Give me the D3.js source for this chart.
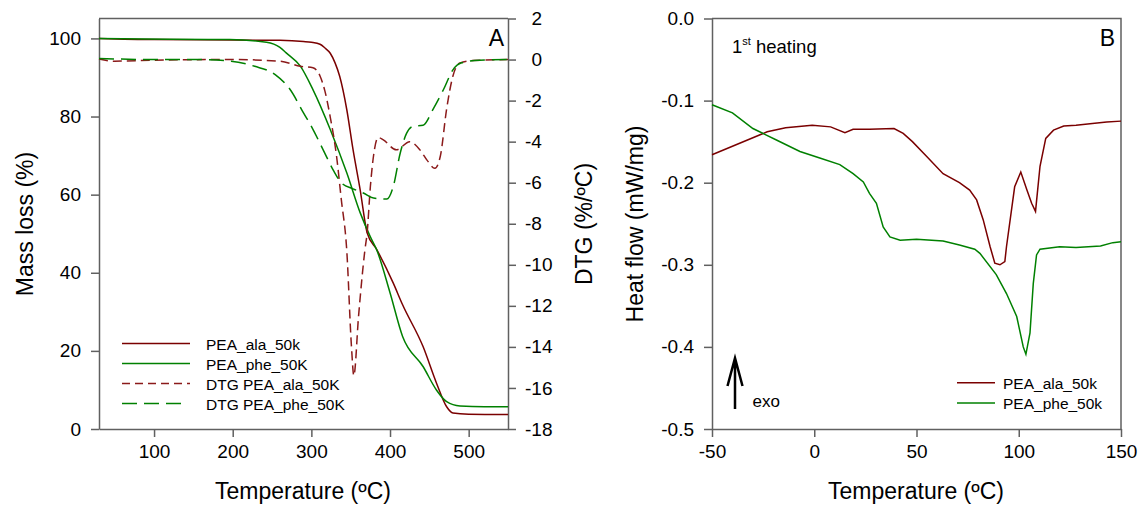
<!DOCTYPE html>
<html>
<head>
<meta charset="utf-8">
<script src="https://cdn.jsdelivr.net/npm/d3@7"></script>
<style>
  body { margin: 0; background: #fff; }
  svg { display: block; font-family: Arial, "Liberation Sans", sans-serif; }
  .axis path, .axis line { stroke: #606060; stroke-width: 1.5; }
  .axis text { font-size: 19px; fill: #000; }
</style>
</head>
<body>
<script>
// --- panel A : TGA (mass, left axis) and DTG (right axis) ---
const tgaAla = [[30,100],[100,99.7],[200,99.6],[260,99.5],[290,99.2],[300,99.0],[311,98.5],[317,97.6],[324,96.2],[330,93.8],[336,90.3],[345,81.8],[353,71.5],[362,61.3],[371,50.2],[383,46],[404,37.4],[416,31.8],[442,21.1],[459,11.8],[472,5.7],[480,4.1],[500,3.8],[550,3.7]];
const tgaPhe = [[30,100],[120,99.8],[196,99.7],[243,99],[260,97.7],[268,96.3],[286,92.9],[302,86.9],[324,76.7],[345,65.6],[362,55.4],[375,49.2],[383,45.9],[400,34.9],[416,23.7],[442,16],[459,10],[472,7],[489,5.9],[520,5.7],[550,5.7]];
const dtgAla = [[30,0.03],[50,-0.08],[100,-0.03],[198,0],[260,-0.08],[286,-0.33],[302,-0.4],[311,-0.8],[317,-1.5],[324,-2.8],[332,-4.7],[338,-6.8],[345,-9.3],[351,-14],[354,-15.4],[360,-12.5],[368,-9.3],[371,-8.4],[375,-6.2],[379,-4.7],[385,-3.8],[391,-3.9],[408,-4.4],[425,-4.0],[438,-4.4],[447,-4.9],[457,-5.3],[464,-4.7],[472,-2.4],[480,-0.8],[489,-0.16],[505,-0.05],[550,0]];
const dtgPhe = [[30,0.05],[100,0],[158,0],[198,-0.08],[228,-0.33],[254,-0.73],[273,-1.46],[290,-2.6],[302,-3.4],[315,-4.4],[328,-5.4],[338,-6.0],[353,-6.3],[366,-6.5],[379,-6.75],[396,-6.8],[404,-6.2],[413,-4.55],[421,-3.6],[429,-3.25],[442,-3.2],[455,-2.4],[468,-1.46],[480,-0.5],[491,-0.16],[514,-0.03],[550,0]];

// --- panel B : DSC 1st heating ---
const dscAla = [[-50,-0.166],[-23,-0.138],[-14,-0.133],[-1,-0.130],[8,-0.132],[15,-0.139],[19,-0.135],[27,-0.135],[39,-0.134],[43.5,-0.14],[48,-0.15],[55,-0.168],[63,-0.189],[71,-0.2],[76,-0.209],[79.4,-0.221],[82.6,-0.245],[86,-0.278],[88.3,-0.298],[90.8,-0.300],[93.2,-0.296],[94,-0.278],[98,-0.205],[101,-0.187],[104,-0.209],[106.3,-0.225],[108.2,-0.235],[110.4,-0.18],[113.2,-0.146],[117,-0.136],[122,-0.131],[128,-0.130],[136,-0.128],[143,-0.126],[150,-0.125]];
const dscPhe = [[-50,-0.105],[-40,-0.115],[-30,-0.134],[-18.5,-0.148],[-7,-0.162],[2.7,-0.170],[12.5,-0.178],[19,-0.189],[24,-0.199],[27,-0.213],[30.4,-0.225],[33.7,-0.254],[37,-0.266],[42,-0.270],[50,-0.269],[63,-0.271],[71,-0.276],[78.5,-0.281],[81,-0.286],[89,-0.312],[94,-0.335],[99,-0.363],[102.2,-0.400],[103.5,-0.409],[105.5,-0.383],[107.1,-0.323],[108.7,-0.288],[110.4,-0.281],[120,-0.278],[128,-0.279],[140,-0.277],[146,-0.273],[150,-0.272]];

const legendA = ['PEA_ala_50k', 'PEA_phe_50K', 'DTG PEA_ala_50K', 'DTG PEA_phe_50K'];
const legendB = ['PEA_ala_50k', 'PEA_phe_50k'];

const red = '#7a0000', redDash = '#8b1a1a', green = '#008000';

const W = 1141, H = 506;
const svg = d3.select('body').append('svg').attr('width', W).attr('height', H);

const plotTop = 18.5, plotBottom = 429;

// ---------- panel A ----------
const xA = d3.scaleLinear().domain([30, 550]).range([99, 508]);
const yMass = d3.scaleLinear().domain([0, 105.1]).range([plotBottom, plotTop]);
const yDtg = d3.scaleLinear().domain([-18, 2]).range([plotBottom, plotTop]);

svg.append('line').attr('x1', 99).attr('x2', 508).attr('y1', plotTop).attr('y2', plotTop)
  .attr('stroke', '#606060').attr('stroke-width', 1.5);

svg.append('g').attr('class', 'axis').attr('transform', `translate(0,${plotBottom})`)
  .call(d3.axisBottom(xA).tickValues([100, 200, 300, 400, 500]).tickSize(8).tickPadding(8).tickSizeOuter(0));
svg.append('g').attr('class', 'axis').attr('transform', 'translate(99,0)')
  .call(d3.axisLeft(yMass).tickValues([0, 20, 40, 60, 80, 100]).tickSize(8).tickPadding(10).tickSizeOuter(0));
const rAx = svg.append('g').attr('class', 'axis').attr('transform', 'translate(508,0)')
  .call(d3.axisRight(yDtg).ticks(10).tickFormat(d => String(d)).tickSize(8).tickPadding(10).tickSizeOuter(0));
rAx.selectAll('.tick text').attr('x', d => d < 0 ? 17 : 23.5);

const lineA = (yS) => d3.line().x(d => xA(d[0])).y(d => yS(d[1])).curve(d3.curveMonotoneX);
svg.append('path').datum(tgaAla).attr('d', lineA(yMass)).attr('fill', 'none').attr('stroke', red).attr('stroke-width', 1.5);
svg.append('path').datum(tgaPhe).attr('d', lineA(yMass)).attr('fill', 'none').attr('stroke', green).attr('stroke-width', 1.5);
svg.append('path').datum(dtgAla).attr('d', lineA(yDtg)).attr('fill', 'none').attr('stroke', redDash).attr('stroke-width', 1.5).attr('stroke-dasharray', '9,5');
svg.append('path').datum(dtgPhe).attr('d', lineA(yDtg)).attr('fill', 'none').attr('stroke', green).attr('stroke-width', 1.5).attr('stroke-dasharray', '15,7');

const legA = svg.append('g');
const styleA = [
  { c: red, dash: null, len: 68 },
  { c: green, dash: null, len: 68 },
  { c: redDash, dash: '8,5', len: 68 },
  { c: green, dash: '15,7', len: 60 }
];
legendA.forEach((t, i) => {
  const y = 343.5 + i * 20;
  legA.append('line').attr('x1', 122).attr('x2', 122 + styleA[i].len).attr('y1', y).attr('y2', y)
    .attr('stroke', styleA[i].c).attr('stroke-width', 1.5).attr('stroke-dasharray', styleA[i].dash);
  legA.append('text').attr('x', 206).attr('y', y + 6).attr('font-size', 15.5).text(t);
});

svg.append('text').attr('x', 504).attr('y', 46).attr('text-anchor', 'end').attr('font-size', 23).text('A');

svg.append('text').attr('x', 303).attr('y', 499).attr('text-anchor', 'middle').attr('font-size', 23).text('Temperature (ºC)');
svg.append('text').attr('transform', 'translate(33,224) rotate(-90)').attr('text-anchor', 'middle').attr('font-size', 23).text('Mass loss (%)');
svg.append('text').attr('transform', 'translate(592,224) rotate(-90)').attr('text-anchor', 'middle').attr('font-size', 23).text('DTG (%/ºC)');

// ---------- panel B ----------
const xB = d3.scaleLinear().domain([-50, 150]).range([712, 1121]);
const yB = d3.scaleLinear().domain([-0.5, 0]).range([plotBottom, plotTop]);

svg.append('path').attr('d', `M712,${plotTop}H1121V${plotBottom}`).attr('fill', 'none')
  .attr('stroke', '#606060').attr('stroke-width', 1.5);
svg.append('g').attr('class', 'axis').attr('transform', `translate(0,${plotBottom})`)
  .call(d3.axisBottom(xB).tickValues([-50, 0, 50, 100, 150]).tickFormat(d => String(d)).tickSize(8).tickPadding(8).tickSizeOuter(0));
svg.append('g').attr('class', 'axis').attr('transform', 'translate(712,0)')
  .call(d3.axisLeft(yB).tickValues([-0.5, -0.4, -0.3, -0.2, -0.1, 0]).tickFormat(d => d.toFixed(1)).tickSize(8).tickPadding(10).tickSizeOuter(0));

const lineB = d3.line().x(d => xB(d[0])).y(d => yB(d[1]));
svg.append('path').datum(dscAla).attr('d', lineB).attr('fill', 'none').attr('stroke', red).attr('stroke-width', 1.5);
svg.append('path').datum(dscPhe).attr('d', lineB).attr('fill', 'none').attr('stroke', green).attr('stroke-width', 1.5);

[red, green].forEach((c, i) => {
  const y = 382.7 + i * 20.3;
  svg.append('line').attr('x1', 957).attr('x2', 995).attr('y1', y).attr('y2', y).attr('stroke', c).attr('stroke-width', 1.5);
  svg.append('text').attr('x', 1003).attr('y', y + 6).attr('font-size', 15.5).text(legendB[i]);
});

svg.append('text').attr('x', 1115).attr('y', 46).attr('text-anchor', 'end').attr('font-size', 23).text('B');

const heat = svg.append('text').attr('x', 732).attr('y', 53).attr('font-size', 18.5);
heat.append('tspan').text('1');
heat.append('tspan').attr('font-size', 11).attr('dy', -8).text('st');
heat.append('tspan').attr('dy', 8).text(' heating');

svg.append('path').attr('d', 'M735,409V359M727.5,386L735,358L742.5,386').attr('fill', 'none')
  .attr('stroke', '#000').attr('stroke-width', 2.5);
svg.append('text').attr('x', 752.5).attr('y', 407).attr('font-size', 17).text('exo');

svg.append('text').attr('x', 916).attr('y', 499).attr('text-anchor', 'middle').attr('font-size', 23).text('Temperature (ºC)');
svg.append('text').attr('transform', 'translate(643,224) rotate(-90)').attr('text-anchor', 'middle').attr('font-size', 23).text('Heat flow (mW/mg)');
</script>
</body>
</html>
